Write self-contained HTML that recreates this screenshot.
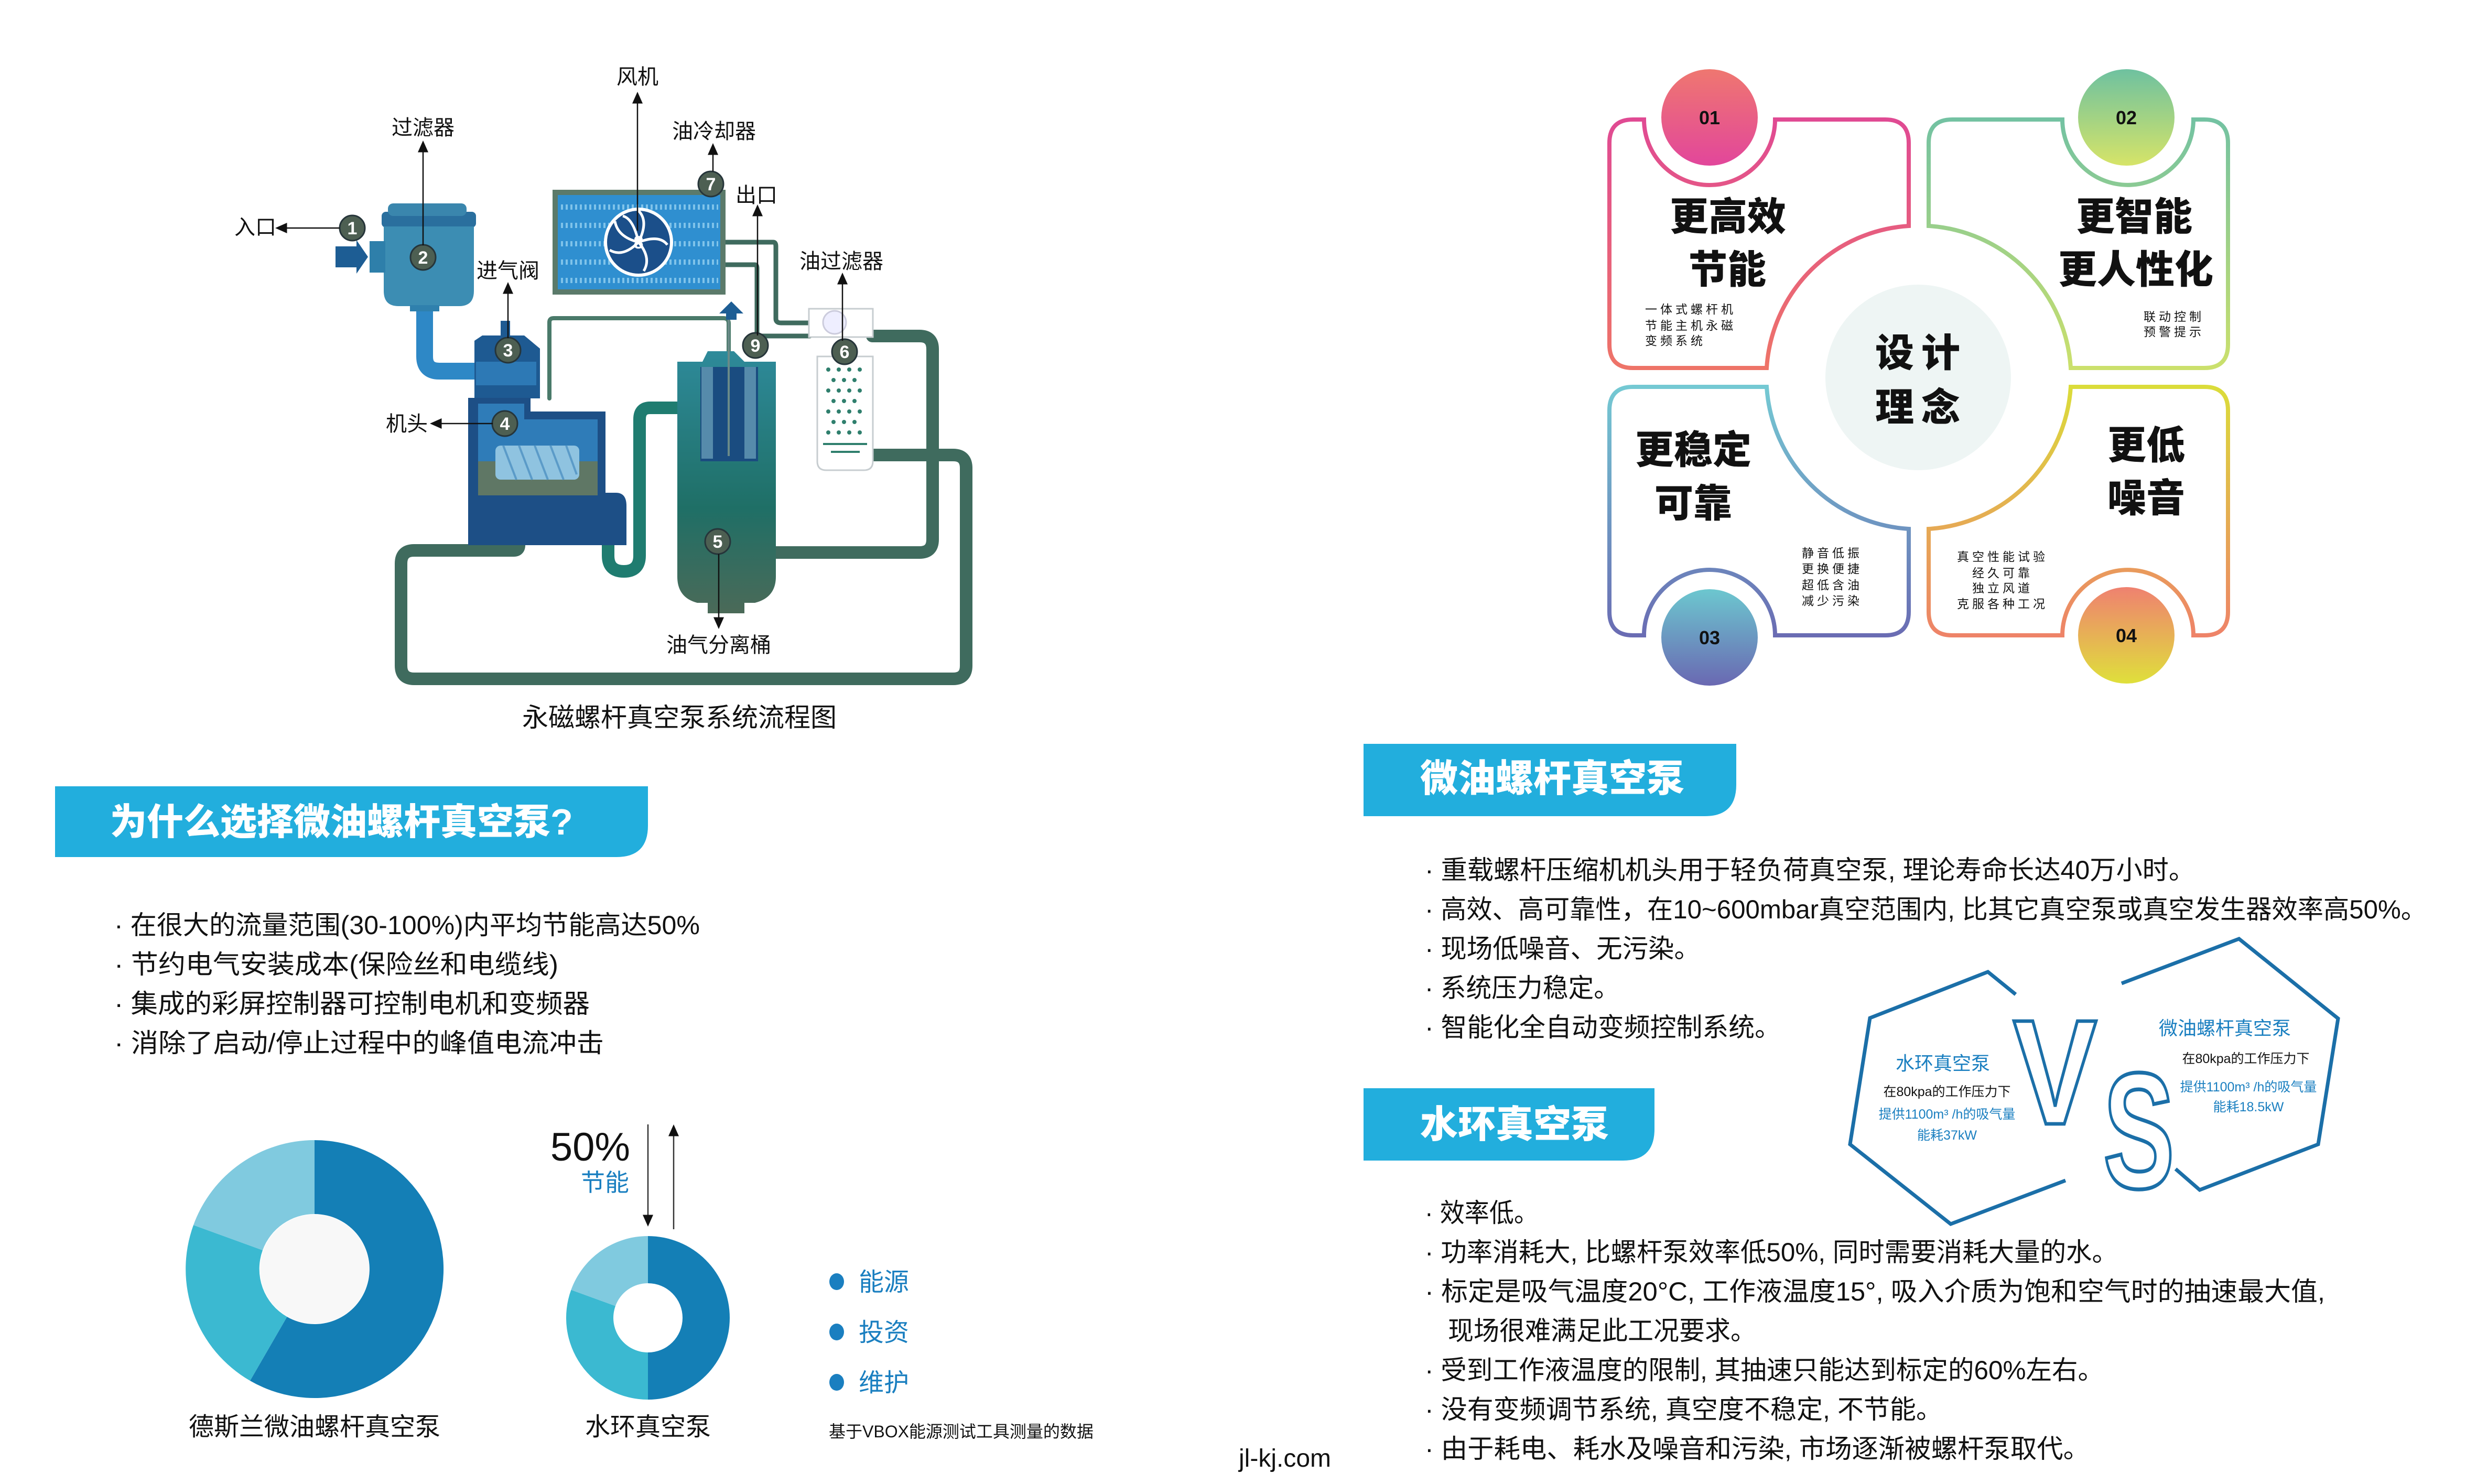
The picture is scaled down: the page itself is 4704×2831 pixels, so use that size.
<!DOCTYPE html>
<html><head><meta charset="utf-8"><style>
html,body{margin:0;padding:0;background:#fff}
svg{display:block}
text{font-family:"Liberation Sans","Noto Sans CJK SC",sans-serif}
.b{font-weight:900}
</style></head><body>
<svg width="4704" height="2831" viewBox="0 0 4704 2831" xmlns="http://www.w3.org/2000/svg">
<defs>
<linearGradient id="g1" x1="0" y1="0" x2="0" y2="1"><stop offset="0" stop-color="#e04a93"/><stop offset="1" stop-color="#ee7468"/></linearGradient>
<linearGradient id="c1" x1="0" y1="0" x2="0" y2="1"><stop offset="0" stop-color="#ef7770"/><stop offset="1" stop-color="#e2469b"/></linearGradient>
<linearGradient id="g2" x1="0" y1="0" x2="0" y2="1"><stop offset="0" stop-color="#73c2a2"/><stop offset="1" stop-color="#cbe06c"/></linearGradient>
<linearGradient id="c2" x1="0" y1="0" x2="0" y2="1"><stop offset="0" stop-color="#6ec1a0"/><stop offset="1" stop-color="#d6e468"/></linearGradient>
<linearGradient id="g3" x1="0" y1="0" x2="0" y2="1"><stop offset="0" stop-color="#74c9d3"/><stop offset="1" stop-color="#6a6cb3"/></linearGradient>
<linearGradient id="c3" x1="0" y1="0" x2="0" y2="1"><stop offset="0" stop-color="#6cc7cf"/><stop offset="1" stop-color="#6a68b2"/></linearGradient>
<linearGradient id="g4" x1="0" y1="0" x2="0" y2="1"><stop offset="0" stop-color="#dbdc3a"/><stop offset="1" stop-color="#ee8368"/></linearGradient>
<linearGradient id="c4" x1="0" y1="0" x2="0" y2="1"><stop offset="0" stop-color="#ef8170"/><stop offset="1" stop-color="#dfe03b"/></linearGradient>
<linearGradient id="sep" x1="0" y1="0" x2="0" y2="1"><stop offset="0" stop-color="#2e8a9a"/><stop offset="0.6" stop-color="#1f6f66"/><stop offset="1" stop-color="#4b6a58"/></linearGradient>
<marker id="ar" markerWidth="10" markerHeight="10" refX="5" refY="5" orient="auto"><path d="M0,1 L9,5 L0,9 Z" fill="#111"/></marker>
</defs>

<!-- ===== Flow diagram ===== -->
<g fill="none" stroke-linecap="round" stroke-linejoin="round">
  <path d="M990,1000 L990,1040 Q990,1050 980,1050 L790,1050 Q765,1050 765,1075 L765,1270 Q765,1295 790,1295 L1818,1295 Q1843,1295 1843,1270 L1843,893 Q1843,868 1818,868 L1665,868" stroke="#3f6b5e" stroke-width="24"/>
  <path d="M1480,1054 L1754,1054 Q1779,1054 1779,1029 L1779,666 Q1779,641 1754,641 L1664,641" stroke="#3f6b5e" stroke-width="24"/>
  <path d="M1384,462 L1475,462 Q1480,462 1480,470 L1480,608 Q1480,616 1490,616 L1545,616" stroke="#3f6b5e" stroke-width="9"/>
  <path d="M1384,505 L1440,505 Q1444,505 1444,512 L1444,636 Q1444,641 1450,641 L1545,641" stroke="#3f6b5e" stroke-width="9"/>
  <path d="M1048,760 L1048,615 Q1048,607 1056,607 L1380,607 Q1390,607 1390,617 L1390,690" stroke="#4a7a6a" stroke-width="8"/>
  <path d="M810,585 L810,680 Q810,708 838,708 L910,708" stroke="#2e88c6" stroke-width="32"/>
  <path d="M1160,960 L1160,1060 Q1160,1090 1190,1090 Q1220,1090 1220,1060 L1220,800 Q1220,778 1240,778 L1295,778" stroke="#1f7c70" stroke-width="24"/>
</g>
<rect x="728" y="404" width="180" height="30" rx="8" fill="#2a6f9e"/>
<rect x="740" y="388" width="150" height="24" rx="10" fill="#3a86ad"/>
<path d="M732,432 L904,432 L904,555 Q904,584 876,584 L760,584 Q732,584 732,555 Z" fill="#3c8db3"/>
<rect x="705" y="460" width="30" height="60" fill="#2e7faa"/>
<path d="M640,470 L680,470 L680,458 L702,490 L680,522 L680,510 L640,510 Z" fill="#1d5d94"/>
<rect x="782" y="582" width="56" height="12" fill="#2f80ad"/>
<path d="M905,650 L920,640 L1000,640 L1030,665 L1030,760 L905,760 Z" fill="#1e5a92"/>
<rect x="955" y="612" width="18" height="30" fill="#1e5a92"/>
<rect x="908" y="690" width="115" height="45" fill="#2d79b5"/>
<path d="M893,759 L1012,759 L1012,785 L1155,785 L1155,1040 L893,1040 Z" fill="#1d4f86"/>
<path d="M1140,940 L1175,940 Q1195,940 1195,965 L1195,1040 L1140,1040 Z" fill="#1d4f86"/>
<path d="M912,770 L1000,770 L1000,800 L1140,800 L1140,945 L912,945 Z" fill="#2f7cb8"/>
<rect x="912" y="880" width="228" height="65" fill="#5f7765"/>
<rect x="945" y="850" width="160" height="65" rx="10" fill="#8fc3e0"/>
<g stroke="#5b9bc8" stroke-width="4"><line x1="960" y1="850" x2="985" y2="915"/><line x1="990" y1="850" x2="1015" y2="915"/><line x1="1020" y1="850" x2="1045" y2="915"/><line x1="1050" y1="850" x2="1075" y2="915"/><line x1="1080" y1="850" x2="1100" y2="905"/></g>
<rect x="1054" y="362" width="330" height="200" fill="#5b7a6a"/>
<rect x="1064" y="372" width="310" height="180" fill="#2f8fd0"/>
<g stroke="#7fc3ea" stroke-width="10" stroke-dasharray="4 5"><line x1="1070" y1="395" x2="1370" y2="395"/><line x1="1070" y1="430" x2="1370" y2="430"/><line x1="1070" y1="465" x2="1370" y2="465"/><line x1="1070" y1="500" x2="1370" y2="500"/><line x1="1070" y1="535" x2="1370" y2="535"/></g>
<circle cx="1218" cy="462" r="63" fill="#1b4f8a" stroke="#fff" stroke-width="6"/>
<g stroke="#fff" stroke-width="5" fill="none"><path d="M1218,462 q20,-40 0,-60"/><path d="M1218,462 q40,-15 55,5"/><path d="M1218,462 q25,30 10,55"/><path d="M1218,462 q-30,30 -55,15"/><path d="M1218,462 q-40,-10 -45,-40"/><path d="M1218,462 q-10,-45 -30,-50"/></g>
<path d="M1292,690 L1340,690 L1350,670 L1400,670 L1420,690 L1480,690 L1480,1100 Q1480,1140 1440,1150 L1420,1150 L1420,1170 L1350,1170 L1350,1150 L1330,1150 Q1292,1140 1292,1100 Z" fill="url(#sep)"/>
<rect x="1336" y="700" width="110" height="180" fill="#1a4c80"/>
<rect x="1338" y="700" width="22" height="175" fill="#7fb6c8" opacity="0.6"/>
<rect x="1420" y="700" width="22" height="175" fill="#7fb6c8" opacity="0.6"/>
<line x1="1390" y1="610" x2="1390" y2="870" stroke="#6a8a88" stroke-width="4"/>
<path d="M1395,575 L1418,598 L1405,598 L1405,610 L1385,610 L1385,598 L1372,598 Z" fill="#1d5d94"/>
<rect x="1543" y="589" width="122" height="54" fill="#fff" stroke="#c7cdd0" stroke-width="3"/>
<circle cx="1592" cy="615" r="22" fill="#eef" stroke="#ccd" stroke-width="3"/>
<path d="M1559,680 L1665,680 L1665,880 Q1665,897 1648,897 L1576,897 Q1559,897 1559,880 Z" fill="#fff" stroke="#c7cdd0" stroke-width="3"/>
<g fill="#2f7f6d">
<circle cx="1580" cy="705" r="4"/><circle cx="1600" cy="705" r="4"/><circle cx="1620" cy="705" r="4"/><circle cx="1640" cy="705" r="4"/>
<circle cx="1590" cy="725" r="4"/><circle cx="1610" cy="725" r="4"/><circle cx="1630" cy="725" r="4"/>
<circle cx="1580" cy="745" r="4"/><circle cx="1600" cy="745" r="4"/><circle cx="1620" cy="745" r="4"/><circle cx="1640" cy="745" r="4"/>
<circle cx="1590" cy="765" r="4"/><circle cx="1610" cy="765" r="4"/><circle cx="1630" cy="765" r="4"/>
<circle cx="1580" cy="785" r="4"/><circle cx="1600" cy="785" r="4"/><circle cx="1620" cy="785" r="4"/><circle cx="1640" cy="785" r="4"/>
<circle cx="1590" cy="805" r="4"/><circle cx="1610" cy="805" r="4"/><circle cx="1630" cy="805" r="4"/>
<circle cx="1580" cy="825" r="4"/><circle cx="1600" cy="825" r="4"/><circle cx="1620" cy="825" r="4"/><circle cx="1640" cy="825" r="4"/>
<rect x="1570" y="845" width="84" height="4"/><rect x="1585" y="860" width="55" height="4"/>
</g>
<g fill="#4d5f52" stroke="#26353a" stroke-width="3">
<circle cx="672" cy="435" r="24"/><circle cx="807" cy="491" r="24"/><circle cx="969" cy="668" r="24"/><circle cx="963" cy="808" r="24"/><circle cx="1369" cy="1033" r="24"/><circle cx="1611" cy="671" r="24"/><circle cx="1356" cy="351" r="24"/><circle cx="1441" cy="659" r="24"/>
</g>
<g fill="#fff" font-size="34" font-weight="700" text-anchor="middle">
<text x="672" y="447">1</text><text x="807" y="503">2</text><text x="969" y="680">3</text><text x="963" y="820">4</text><text x="1369" y="1045">5</text><text x="1611" y="683">6</text><text x="1356" y="363">7</text><text x="1218" y="474">8</text><text x="1441" y="671">9</text>
</g>
<g stroke="#111" stroke-width="2.5" marker-end="url(#ar)">
<line x1="1216" y1="440" x2="1216" y2="185"/>
<line x1="807" y1="468" x2="807" y2="278"/>
<line x1="1360" y1="327" x2="1360" y2="283"/>
<line x1="1445" y1="640" x2="1445" y2="400"/>
<line x1="648" y1="435" x2="535" y2="435"/>
<line x1="969" y1="645" x2="969" y2="548"/>
<line x1="1607" y1="650" x2="1607" y2="530"/>
<line x1="940" y1="808" x2="830" y2="808"/>
<line x1="1371" y1="1057" x2="1371" y2="1190"/>
</g>
<g font-size="40" fill="#111" text-anchor="middle">
<text x="1216" y="160">风机</text>
<text x="807" y="257">过滤器</text>
<text x="1362" y="264">油冷却器</text>
<text x="1443" y="386">出口</text>
<text x="487" y="447">入口</text>
<text x="969" y="530">进气阀</text>
<text x="1605" y="512">油过滤器</text>
<text x="776" y="822">机头</text>
<text x="1371" y="1244">油气分离桶</text>
<text x="1296" y="1386" font-size="50">永磁螺杆真空泵系统流程图</text>
</g>

<!-- ===== Left header & bullets ===== -->
<path d="M105,1500 L1236,1500 L1236,1575 Q1236,1635 1176,1635 L105,1635 Z" fill="#22aedd"/>
<text x="210" y="1592" class="b" font-size="70" fill="#fff">为什么选择微油螺杆真空泵?</text>
<g font-size="50" fill="#111">
<text x="218" y="1782" textLength="1117" lengthAdjust="spacingAndGlyphs">· 在很大的流量范围(30-100%)内平均节能高达50%</text>
<text x="218" y="1857" textLength="847" lengthAdjust="spacingAndGlyphs">· 节约电气安装成本(保险丝和电缆线)</text>
<text x="218" y="1932" textLength="907" lengthAdjust="spacingAndGlyphs">· 集成的彩屏控制器可控制电机和变频器</text>
<text x="218" y="2007" textLength="934" lengthAdjust="spacingAndGlyphs">· 消除了启动/停止过程中的峰值电流冲击</text>
</g>

<path d="M600,2175 A246,246 0 1 1 477,2634 L547.5,2512 A105,105 0 1 0 600,2316 Z" fill="#147fb6"/>
<path d="M477,2634 A246,246 0 0 1 369,2337 L501,2385 A105,105 0 0 0 547.5,2512 Z" fill="#3bb9d1"/>
<path d="M369,2337 A246,246 0 0 1 600,2175 L600,2316 A105,105 0 0 0 501,2385 Z" fill="#80cadf"/>
<circle cx="600" cy="2421" r="104" fill="#f8f8f8"/>
<path d="M1236,2358 A156,156 0 0 1 1236,2670 L1236,2580 A66,66 0 0 0 1236,2448 Z" fill="#147fb6"/>
<path d="M1236,2670 A156,156 0 0 1 1089.4,2460.6 L1174,2491.4 A66,66 0 0 0 1236,2580 Z" fill="#3bb9d1"/>
<path d="M1089.4,2460.6 A156,156 0 0 1 1236,2358 L1236,2448 A66,66 0 0 0 1174,2491.4 Z" fill="#80cadf"/>
<g font-size="48" fill="#111" text-anchor="middle">
<text x="600" y="2738">德斯兰微油螺杆真空泵</text>
<text x="1236" y="2738">水环真空泵</text>
</g>
<text x="1202" y="2214" font-size="76" fill="#111" text-anchor="end">50%</text>
<text x="1200" y="2272" font-size="46" fill="#1a7fc0" text-anchor="end">节能</text>
<line x1="1236" y1="2145" x2="1236" y2="2330" stroke="#333" stroke-width="2.5" marker-end="url(#ar)"/>
<line x1="1285" y1="2345" x2="1285" y2="2155" stroke="#333" stroke-width="2.5" marker-end="url(#ar)"/>
<g fill="#1a7fc0">
<ellipse cx="1596" cy="2445" rx="14" ry="16"/><ellipse cx="1596" cy="2541" rx="14" ry="16"/><ellipse cx="1596" cy="2637" rx="14" ry="16"/>
</g>
<g font-size="48" fill="#1a7fc0"><text x="1638" y="2462">能源</text><text x="1638" y="2558">投资</text><text x="1638" y="2654">维护</text></g>
<text x="1581" y="2742" font-size="32" fill="#111">基于VBOX能源测试工具测量的数据</text>
<text x="2451" y="2798" font-size="48" fill="#111" text-anchor="middle">jl-kj.com</text>

<!-- ===== Design quadrants ===== -->
<g fill="none" stroke-width="8">
<path d="M3115,228 L3136,228 A125,125 0 0 0 3386,228 L3596,228 Q3641,228 3641,273 L3641,431 A290,290 0 0 0 3370,702 L3115,702 Q3070,702 3070,657 L3070,273 Q3070,228 3115,228 Z" stroke="url(#g1)"/>
<path d="M4205,228 L4184,228 A125,125 0 0 1 3934,228 L3724,228 Q3679,228 3679,273 L3679,431 A290,290 0 0 1 3950,702 L4205,702 Q4250,702 4250,657 L4250,273 Q4250,228 4205,228 Z" stroke="url(#g2)"/>
<path d="M3115,1212 L3136,1212 A125,125 0 0 1 3386,1212 L3596,1212 Q3641,1212 3641,1167 L3641,1009 A290,290 0 0 1 3370,738 L3115,738 Q3070,738 3070,783 L3070,1167 Q3070,1212 3115,1212 Z" stroke="url(#g3)"/>
<path d="M4205,1212 L4184,1212 A125,125 0 0 0 3934,1212 L3724,1212 Q3679,1212 3679,1167 L3679,1009 A290,290 0 0 0 3950,738 L4205,738 Q4250,738 4250,783 L4250,1167 Q4250,1212 4205,1212 Z" stroke="url(#g4)"/>
</g>
<circle cx="3261" cy="224" r="92" fill="url(#c1)"/>
<circle cx="4056" cy="224" r="92" fill="url(#c2)"/>
<circle cx="3261" cy="1216" r="92" fill="url(#c3)"/>
<circle cx="4056" cy="1212" r="92" fill="url(#c4)"/>
<circle cx="3659" cy="720" r="177" fill="#eef5f4"/>
<g font-size="36" font-weight="700" fill="#111" text-anchor="middle">
<text x="3261" y="237">01</text><text x="4056" y="237">02</text><text x="3261" y="1229">03</text><text x="4056" y="1225">04</text>
</g>
<g class="b" font-size="74" fill="#111" text-anchor="middle">
<text x="3296" y="439">更高效</text>
<text x="3295" y="540">节能</text>
<text x="4071" y="439">更智能</text>
<text x="4074" y="540">更人性化</text>
<text x="3230" y="884">更稳定</text>
<text x="3230" y="986">可靠</text>
<text x="4094" y="875">更低</text>
<text x="4094" y="976">噪音</text>
<text x="3665" y="699" letter-spacing="14">设计</text>
<text x="3665" y="803" letter-spacing="14">理念</text>
</g>
<g font-size="23" fill="#111" letter-spacing="6">
<text x="3138" y="598">一体式螺杆机</text><text x="3138" y="629">节能主机永磁</text><text x="3138" y="658">变频系统</text>
<text x="4205" y="612" text-anchor="end">联动控制</text><text x="4205" y="641" text-anchor="end">预警提示</text>
<text x="3437" y="1063">静音低振</text><text x="3437" y="1093">更换便捷</text><text x="3437" y="1124">超低含油</text><text x="3437" y="1154">减少污染</text>
<text x="3820" y="1070" text-anchor="middle">真空性能试验</text><text x="3820" y="1101" text-anchor="middle">经久可靠</text><text x="3820" y="1130" text-anchor="middle">独立风道</text><text x="3820" y="1160" text-anchor="middle">克服各种工况</text>
</g>

<!-- ===== Right headers & bullets ===== -->
<path d="M2601,1419 L3312,1419 L3312,1497 Q3312,1557 3252,1557 L2601,1557 Z" fill="#22aedd"/>
<text x="2709" y="1510" class="b" font-size="72" fill="#fff">微油螺杆真空泵</text>
<path d="M2601,2076 L3156,2076 L3156,2154 Q3156,2214 3096,2214 L2601,2214 Z" fill="#22aedd"/>
<text x="2709" y="2170" class="b" font-size="72" fill="#fff">水环真空泵</text>
<g font-size="50" fill="#111">
<text x="2718" y="1677" textLength="1469" lengthAdjust="spacingAndGlyphs">· 重载螺杆压缩机机头用于轻负荷真空泵, 理论寿命长达40万小时。</text>
<text x="2718" y="1752" textLength="1911" lengthAdjust="spacingAndGlyphs">· 高效、高可靠性，在10~600mbar真空范围内, 比其它真空泵或真空发生器效率高50%。</text>
<text x="2718" y="1827" textLength="525" lengthAdjust="spacingAndGlyphs">· 现场低噪音、无污染。</text>
<text x="2718" y="1902" textLength="371" lengthAdjust="spacingAndGlyphs">· 系统压力稳定。</text>
<text x="2718" y="1977" textLength="679" lengthAdjust="spacingAndGlyphs">· 智能化全自动变频控制系统。</text>
<text x="2718" y="2331" textLength="217" lengthAdjust="spacingAndGlyphs">· 效率低。</text>
<text x="2718" y="2406" textLength="1322" lengthAdjust="spacingAndGlyphs">· 功率消耗大, 比螺杆泵效率低50%, 同时需要消耗大量的水。</text>
<text x="2718" y="2481" textLength="1717" lengthAdjust="spacingAndGlyphs">· 标定是吸气温度20°C, 工作液温度15°, 吸入介质为饱和空气时的抽速最大值,</text>
<text x="2762" y="2556" textLength="588" lengthAdjust="spacingAndGlyphs">现场很难满足此工况要求。</text>
<text x="2718" y="2631" textLength="1295" lengthAdjust="spacingAndGlyphs">· 受到工作液温度的限制, 其抽速只能达到标定的60%左右。</text>
<text x="2718" y="2706" textLength="987" lengthAdjust="spacingAndGlyphs">· 没有变频调节系统, 真空度不稳定, 不节能。</text>
<text x="2718" y="2781" textLength="1268" lengthAdjust="spacingAndGlyphs">· 由于耗电、耗水及噪音和污染, 市场逐渐被螺杆泵取代。</text>
</g>

<!-- ===== VS graphic ===== -->
<g fill="none" stroke="#1b6fa8" stroke-width="7" stroke-linejoin="miter">
<polyline points="3845,1897 3792,1854 3567,1942 3529,2183 3721,2335 3940,2252"/>
<polyline points="4047,1876 4271,1791 4460,1943 4422,2183 4196,2270 4150,2230"/>
</g>
<text x="3920" y="2144" font-size="300" font-weight="700" fill="#fff" stroke="#1b6fa8" stroke-width="7" text-anchor="middle" transform="translate(3920,2144) scale(0.8,0.95) translate(-3920,-2144)">V</text>
<text x="4080" y="2266" font-size="300" font-weight="700" fill="#fff" stroke="#1b6fa8" stroke-width="7" text-anchor="middle" transform="translate(4080,2266) scale(0.68,1.05) translate(-4080,-2266)">S</text>
<g text-anchor="middle">
<text x="3706" y="2041" font-size="36" fill="#1a7fc0">水环真空泵</text>
<text x="3714" y="2091" font-size="25" fill="#111">在80kpa的工作压力下</text>
<text x="3714" y="2134" font-size="25" fill="#1a7fc0">提供1100m³ /h的吸气量</text>
<text x="3714" y="2174" font-size="25" fill="#1a7fc0">能耗37kW</text>
<text x="4244" y="1974" font-size="36" fill="#1a7fc0">微油螺杆真空泵</text>
<text x="4284" y="2028" font-size="25" fill="#111">在80kpa的工作压力下</text>
<text x="4289" y="2082" font-size="25" fill="#1a7fc0">提供1100m³ /h的吸气量</text>
<text x="4289" y="2120" font-size="25" fill="#1a7fc0">能耗18.5kW</text>
</g>
</svg>
</body></html>
